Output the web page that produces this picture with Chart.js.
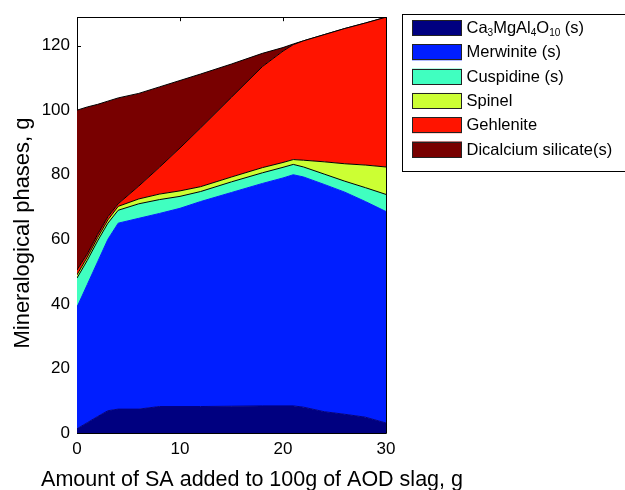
<!DOCTYPE html>
<html>
<head>
<meta charset="utf-8">
<script src="https://cdn.jsdelivr.net/npm/chart.js@4.4.1/dist/chart.umd.min.js"></script>
<style>
  body { margin: 0; background: #fff; }
  #caixa { width: 625px; height: 490px; position: relative; }
</style>
</head>
<body>
<div id="caixa"><canvas id="graficoFases"></canvas></div>
<script>
// quantidade de SA adicionada (g)
const xs = [0, 1, 2, 3, 4, 6, 8, 10, 12, 15, 18, 20, 21, 22, 24, 26, 28, 30];

// fases mineralogicas (g), empilhadas de baixo para cima
const caMgAl = [1.3, 3.2, 5.1, 6.9, 7.4, 7.4, 8.2, 8.2, 8.2, 8.3, 8.4, 8.4, 8.4, 8.0, 6.6, 5.8, 4.9, 3.1];
const merwinita = [37.7, 42.8, 47.9, 53.1, 57.6, 59.1, 59.8, 61.4, 63.5, 66.2, 68.9, 70.6, 71.6, 71.3, 70.4, 68.8, 66.8, 65.5];
const cuspidina = [9, 7.5, 6.5, 5, 4, 4.5, 4.3, 3.7, 3.1, 3.3, 3.3, 3.3, 3.2, 3.1, 3.2, 3.4, 4.3, 5.3];
const espinela = [1, 1, 1, 1, 1.2, 1.5, 1.7, 1.7, 1.5, 1.5, 1.6, 1.5, 1.5, 2.1, 3.8, 5.4, 7, 8.5];
const gehlenita = [1.5, 1, 1, 1, 0.8, 4, 8.3, 13.3, 18.2, 24.7, 31.3, 34.5, 35.6, 37, 39.4, 41.9, 44, 46.4];
const silicatoDicalcico = [49.5, 45.5, 40.3, 35.8, 32.8, 28.7, 24.9, 20.9, 16.7, 10.3, 4.1, 1.1, 0.2, 0, 0, 0, 0, 0];

const nomes = ["Ca3MgAl4O10 (s)", "Merwinite (s)", "Cuspidine (s)", "Spinel", "Gehlenite", "Dicalcium silicate(s)"];
const series = [caMgAl, merwinita, cuspidina, espinela, gehlenita, silicatoDicalcico];
const cores = ["#000080", "#001eff", "#40ffc0", "#ccff33", "#ff1400", "#780000"];
const contornos = [false, false, true, true, true, true];

const yTicks = [0, 20, 40, 60, 80, 100, 120];
const xTicks = [0, 10, 20, 30];

const fonte = "'Liberation Sans', Arial, Helvetica, sans-serif";

function pontos(serie) {
  return xs.map((x, i) => ({ x: x, y: serie[i] }));
}

// ticks para dentro e moldura do eixo (estilo MATLAB)
const moldura = {
  id: "moldura",
  beforeDatasetsDraw(chart) {
    const { ctx, chartArea: a, scales } = chart;
    ctx.save();
    ctx.strokeStyle = "#000";
    ctx.lineWidth = 1;
    ctx.beginPath();
    xTicks.forEach((v) => {
      const px = Math.round(scales.x.getPixelForValue(v)) + 0.5;
      ctx.moveTo(px, a.bottom); ctx.lineTo(px, a.bottom - 4);
      ctx.moveTo(px, a.top); ctx.lineTo(px, a.top + 4);
    });
    yTicks.forEach((v) => {
      const py = Math.round(scales.y.getPixelForValue(v)) + 0.5;
      ctx.moveTo(a.left, py); ctx.lineTo(a.left + 4, py);
      ctx.moveTo(a.right, py); ctx.lineTo(a.right - 4, py);
    });
    ctx.moveTo(Math.round(a.left) + 0.5, a.top);
    ctx.lineTo(Math.round(a.left) + 0.5, a.bottom);
    ctx.stroke();
    ctx.restore();
  },
  afterDatasetsDraw(chart) {
    const { ctx, chartArea: a } = chart;
    const l = Math.round(a.left) + 0.5, r = Math.round(a.right) + 0.5;
    const t = Math.round(a.top) + 0.5, b = Math.round(a.bottom) + 0.5;
    ctx.save();
    ctx.strokeStyle = "#000";
    ctx.lineWidth = 1;
    ctx.beginPath();
    ctx.moveTo(l, t); ctx.lineTo(r, t); ctx.lineTo(r, b); ctx.lineTo(l, b);
    ctx.stroke();
    ctx.restore();
  },
};

// texto com digitos em subscrito (formula quimica)
function escreveRotulo(ctx, texto, x, y, tam) {
  const partes = texto.split(/(\d+)/);
  let cx = x;
  partes.forEach((p) => {
    if (!p) return;
    if (/^\d+$/.test(p)) {
      ctx.font = Math.round(tam * 0.6) + "px " + fonte;
      ctx.fillText(p, cx, y + 5);
    } else {
      ctx.font = tam + "px " + fonte;
      ctx.fillText(p, cx, y);
    }
    cx += ctx.measureText(p).width;
  });
}

// legenda em caixa, a direita do grafico
const legendaCaixa = {
  id: "legendaCaixa",
  afterDraw(chart) {
    const ctx = chart.ctx;
    ctx.save();
    ctx.strokeStyle = "#000";
    ctx.lineWidth = 1;
    ctx.strokeRect(402.5, 14.5, 240, 157);
    ctx.textBaseline = "middle";
    ctx.textAlign = "left";
    ctx.fillStyle = "#000";
    chart.data.datasets.forEach((ds, i) => {
      const topo = 20 + i * 24.3;
      ctx.fillStyle = ds.backgroundColor;
      ctx.fillRect(412, topo, 50, 16);
      ctx.strokeStyle = "#222";
      ctx.strokeRect(412.5, Math.round(topo) + 0.5, 49, 15);
      ctx.fillStyle = "#000";
      escreveRotulo(ctx, ds.label, 466.5, topo + 8.5, 16.5);
    });
    ctx.restore();
  },
};

// titulos dos eixos
const titulos = {
  id: "titulos",
  afterDraw(chart) {
    const ctx = chart.ctx;
    ctx.save();
    ctx.fillStyle = "#000";
    ctx.textAlign = "center";
    ctx.textBaseline = "alphabetic";
    ctx.font = "21.5px " + fonte;
    ctx.fillText("Amount of SA added to 100g of AOD slag, g", 252, 486);
    ctx.translate(29, 233);
    ctx.rotate(-Math.PI / 2);
    ctx.font = "22px " + fonte;
    ctx.fillText("Mineralogical phases, g", 0, 0);
    ctx.restore();
  },
};

const graficoFases = new Chart(document.getElementById("graficoFases"), {
  type: "line",
  data: {
    datasets: series.map((serie, i) => ({
      label: nomes[i],
      data: pontos(serie),
      backgroundColor: cores[i],
      borderColor: contornos[i] ? "#000" : cores[i],
      borderWidth: 1,
      fill: i === 0 ? "origin" : "-1",
      pointRadius: 0,
      tension: 0,
    })),
  },
  options: {
    responsive: true,
    maintainAspectRatio: false,
    animation: false,
    layout: { padding: { top: 14, right: 239, left: 0, bottom: 0 } },
    plugins: {
      legend: { display: false },
      tooltip: { enabled: false },
    },
    scales: {
      x: {
        type: "linear",
        min: 0,
        max: 30,
        grid: { display: false, drawTicks: false },
        border: { display: false },
        afterBuildTicks: (scale) => { scale.ticks = xTicks.map((v) => ({ value: v })); },
        ticks: { color: "#000", font: { family: fonte, size: 17 }, padding: 6, maxRotation: 0 },
        afterFit: (scale) => { scale.height = 57; },
      },
      y: {
        stacked: true,
        min: 0,
        max: 128.8,
        grid: { display: false, drawTicks: false },
        border: { display: false },
        afterBuildTicks: (scale) => { scale.ticks = yTicks.map((v) => ({ value: v })); },
        ticks: { color: "#000", font: { family: fonte, size: 17 }, padding: 7 },
        afterFit: (scale) => { scale.width = 77; },
      },
    },
  },
  plugins: [moldura, legendaCaixa, titulos],
});
</script>
</body>
</html>
